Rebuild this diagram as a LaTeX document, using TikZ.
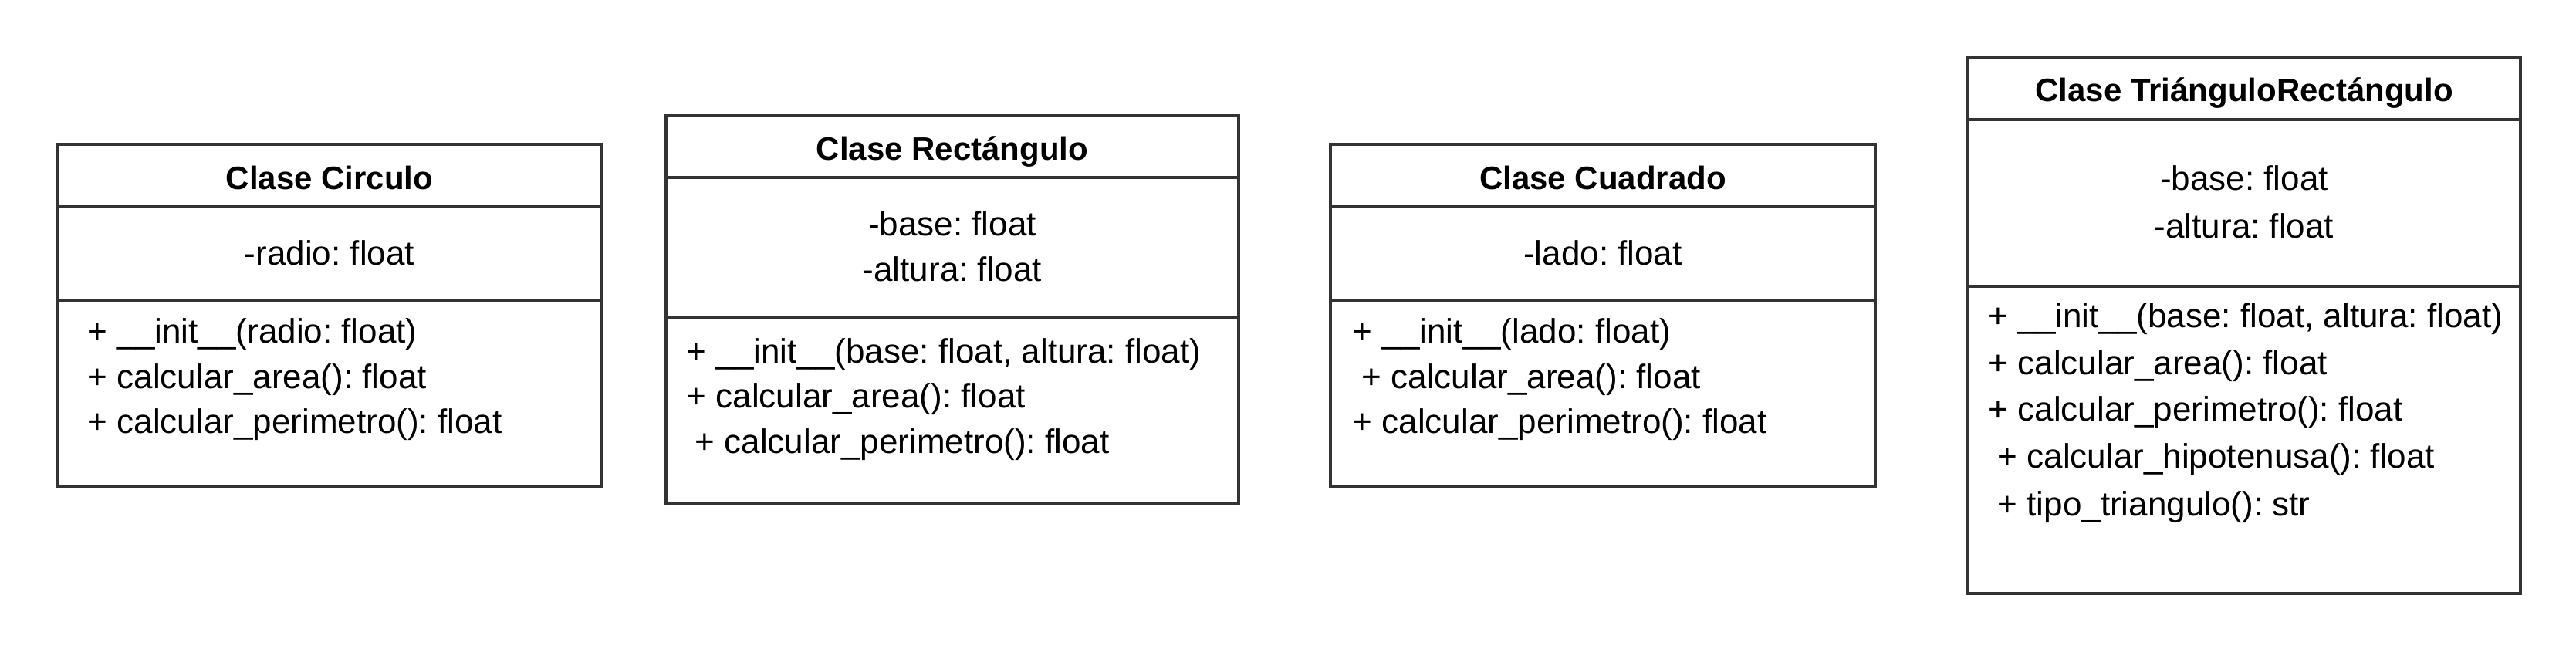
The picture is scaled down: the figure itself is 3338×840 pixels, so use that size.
\documentclass[tikz,border=0pt]{standalone}
\usepackage{fontspec}
\setmainfont{Liberation Sans}
\frenchspacing
\tikzset{
    box/.style={draw=black!80, line width=0.85pt},
    head/.style={inner sep=0pt, text height=7.6pt, text depth=0pt, font=\bfseries\fontsize{10.5}{13}\selectfont},
    attr/.style={inner sep=0pt, text height=7.9pt, text depth=2.3pt, font=\fontsize{11}{14}\selectfont},
    meth/.style={attr, anchor=west}
}
\begin{document}
\begin{tikzpicture}[x=0.25pt, y=-0.25pt]
        \useasboundingbox (0,0) rectangle (3338,840);
        % Circulo
        \draw [box] (75,187) rectangle (780,630);
        \draw [box] (75,267) -- (780,267);
        \draw [box] (75,389) -- (780,389);
        \node [head] (0) at (427,230) {Clase Circulo};
        \node [attr] (1) at (427,332) {-radio: float};
        \node [meth] (2) at (113,433) {+ \_\_init\_\_(radio: float)};
        \node [meth] (3) at (113,492) {+ calcular\_area(): float};
        \node [meth] (4) at (113,550) {+ calcular\_perimetro(): float};
        % Rectangulo
        \draw [box] (863,150) rectangle (1605,653);
        \draw [box] (863,230) -- (1605,230);
        \draw [box] (863,411) -- (1605,411);
        \node [head] (5) at (1234,192) {Clase Rectángulo};
        \node [attr] (6) at (1234,294) {-base: float};
        \node [attr] (7) at (1234,353) {-altura: float};
        \node [meth] (8) at (889,459) {+ \_\_init\_\_(base: float, altura: float)};
        \node [meth] (9) at (889,517) {+ calcular\_area(): float};
        \node [meth] (10) at (900,576) {+ calcular\_perimetro(): float};
        % Cuadrado
        \draw [box] (1724,187) rectangle (2430,630);
        \draw [box] (1724,267) -- (2430,267);
        \draw [box] (1724,389) -- (2430,389);
        \node [head] (11) at (2077,230) {Clase Cuadrado};
        \node [attr] (12) at (2077,332) {-lado: float};
        \node [meth] (13) at (1752,433) {+ \_\_init\_\_(lado: float)};
        \node [meth] (14) at (1764,492) {+ calcular\_area(): float};
        \node [meth] (15) at (1752,550) {+ calcular\_perimetro(): float};
        % TrianguloRectangulo
        \draw [box] (2550,75) rectangle (3266,769);
        \draw [box] (2550,155) -- (3266,155);
        \draw [box] (2550,371) -- (3266,371);
        \node [head] (16) at (2908,116) {Clase TriánguloRectángulo};
        \node [attr] (17) at (2908,235) {-base: float};
        \node [attr] (18) at (2908,297) {-altura: float};
        \node [meth] (19) at (2576,413) {+ \_\_init\_\_(base: float, altura: float)};
        \node [meth] (20) at (2576,474) {+ calcular\_area(): float};
        \node [meth] (21) at (2576,534) {+ calcular\_perimetro(): float};
        \node [meth] (22) at (2588,595) {+ calcular\_hipotenusa(): float};
        \node [meth] (23) at (2588,657) {+ tipo\_triangulo(): str};
\end{tikzpicture}
\end{document}
